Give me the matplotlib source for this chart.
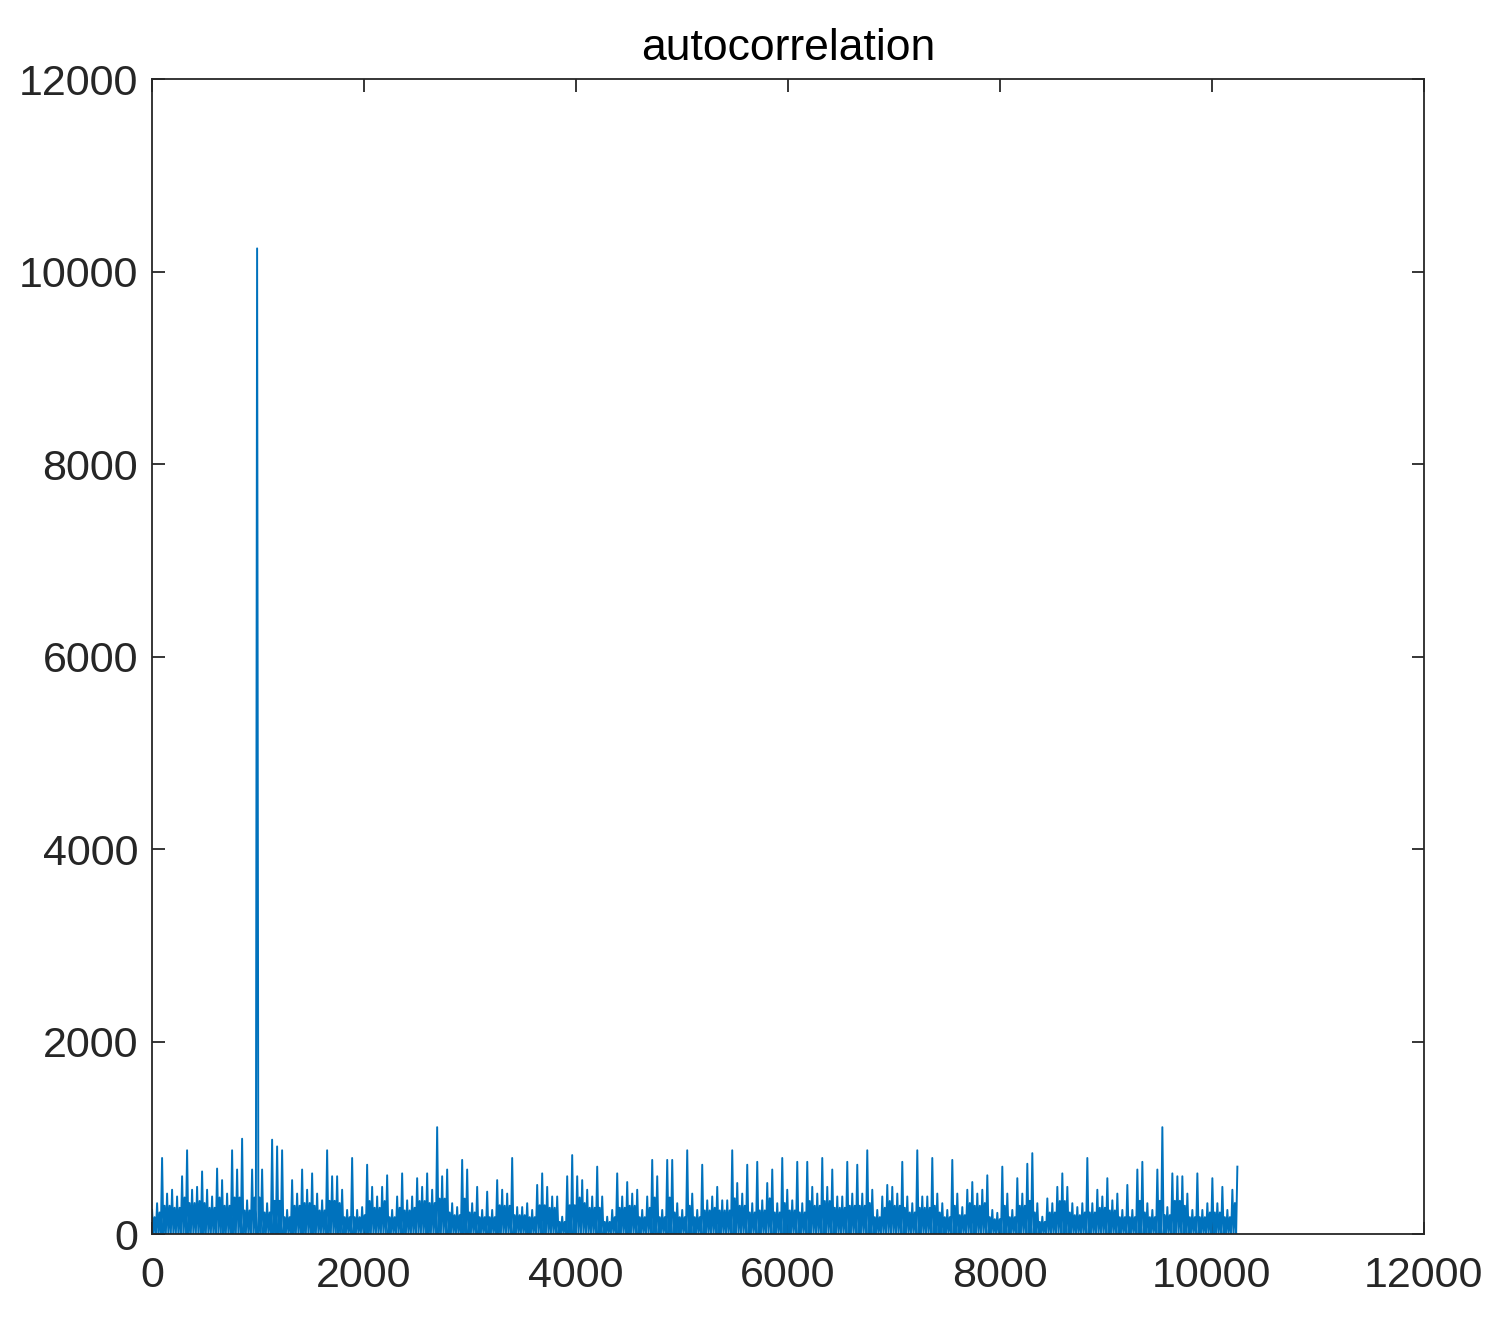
import matplotlib
matplotlib.use("Agg")
import matplotlib.pyplot as plt
import numpy as np

# local peak heights, one every ~47 lags (about 5 px)
peaks = [
    250, 320, 790, 420, 460, 390, 600, 870, 460, 490, 650, 460, 390, 680, 560, 420, 870, 670, 990, 350,
    670, 10240, 670, 320, 980, 910, 870, 250, 560, 420, 670, 460, 630, 420, 350, 870, 600,
    600, 460, 250, 790, 250, 280, 720, 490, 390, 490, 610, 250, 390, 630, 350, 390, 580, 490, 630, 460,
    1110, 600, 670, 320, 280, 770, 670, 320, 490, 250, 440, 250, 560, 460, 420, 790, 280,
    280, 320, 250, 510, 630, 490, 390, 390, 180, 600, 820, 600, 560, 460, 390, 700, 390, 180, 250, 630,
    390, 540, 420, 460, 250, 390, 770, 600, 250, 770, 770, 320, 250, 870, 420, 250, 720,
    350, 390, 490, 350, 350, 870, 530, 420, 720, 320, 750, 350, 530, 670, 320, 790, 460, 350, 750, 320,
    750, 490, 420, 790, 490, 670, 390, 390, 750, 420, 720, 420, 870, 460, 250, 390, 510,
    490, 420, 750, 390, 320, 870, 390, 390, 790, 420, 320, 250, 770, 420, 280, 460, 540, 420, 460, 610,
    250, 220, 700, 420, 250, 580, 420, 730, 840, 320, 180, 370, 320, 490, 630, 490, 320,
    280, 320, 790, 320, 460, 390, 580, 350, 420, 250, 510, 250, 670, 750, 320, 250, 670, 1110, 280, 630,
    600, 600, 420, 250, 630, 250, 320, 580, 320, 490, 250, 460, 700,
]
# height of the dense dark band under the spikes, per 1000 lags
band = [330, 300, 320, 260, 330, 380, 380, 340, 300, 300, 300]
# the signal drops back to the baseline between the spikes
floor_val = 0
n_lags = 10240

pk = np.array(peaks, dtype=float)
lag = np.linspace(0, n_lags, len(pk))
step = lag[1] - lag[0]
seg = np.minimum(lag // 1000, len(band) - 1).astype(int)
band_at = np.array(band, dtype=float)[seg]
# smaller wiggles between two spikes, never above the lower neighbour
nxt = np.append(pk[1:], pk[-1])
shoulder = np.minimum(np.minimum(pk, nxt) * 0.7, band_at * 1.15)
zeros = np.full(len(pk), floor_val)
xs = np.column_stack([lag, lag + step / 4, lag + step / 2, lag + 3 * step / 4]).ravel()
ys = np.column_stack([pk, zeros, shoulder, zeros]).ravel()
xs, ys = xs[:-3], ys[:-3]

plt.rcParams["font.family"] = ["Liberation Sans Narrow", "Liberation Sans", "DejaVu Sans"]

fig = plt.figure(figsize=(14.91, 13.39), dpi=100)
ax = fig.add_axes([0.102, 0.0784, 0.853, 0.8626])

ax.plot(xs, ys, color="#0072BD", lw=1.4)

ax.set_xlim(0, 12000)
ax.set_ylim(0, 12000)
ax.set_xticks(np.arange(0, 12001, 2000))
ax.set_yticks(np.arange(0, 12001, 2000))
ax.tick_params(direction="in", length=9, width=1.3, colors="#262626",
               labelsize=31, top=True, right=True)
ax.tick_params(axis="x", pad=16)
ax.tick_params(axis="y", pad=10)
for s in ax.spines.values():
    s.set_color("#262626")
    s.set_linewidth(1.3)

ax.set_title("autocorrelation", fontsize=32, color="#000000", pad=14)

fig.savefig("out.png", dpi=100)
